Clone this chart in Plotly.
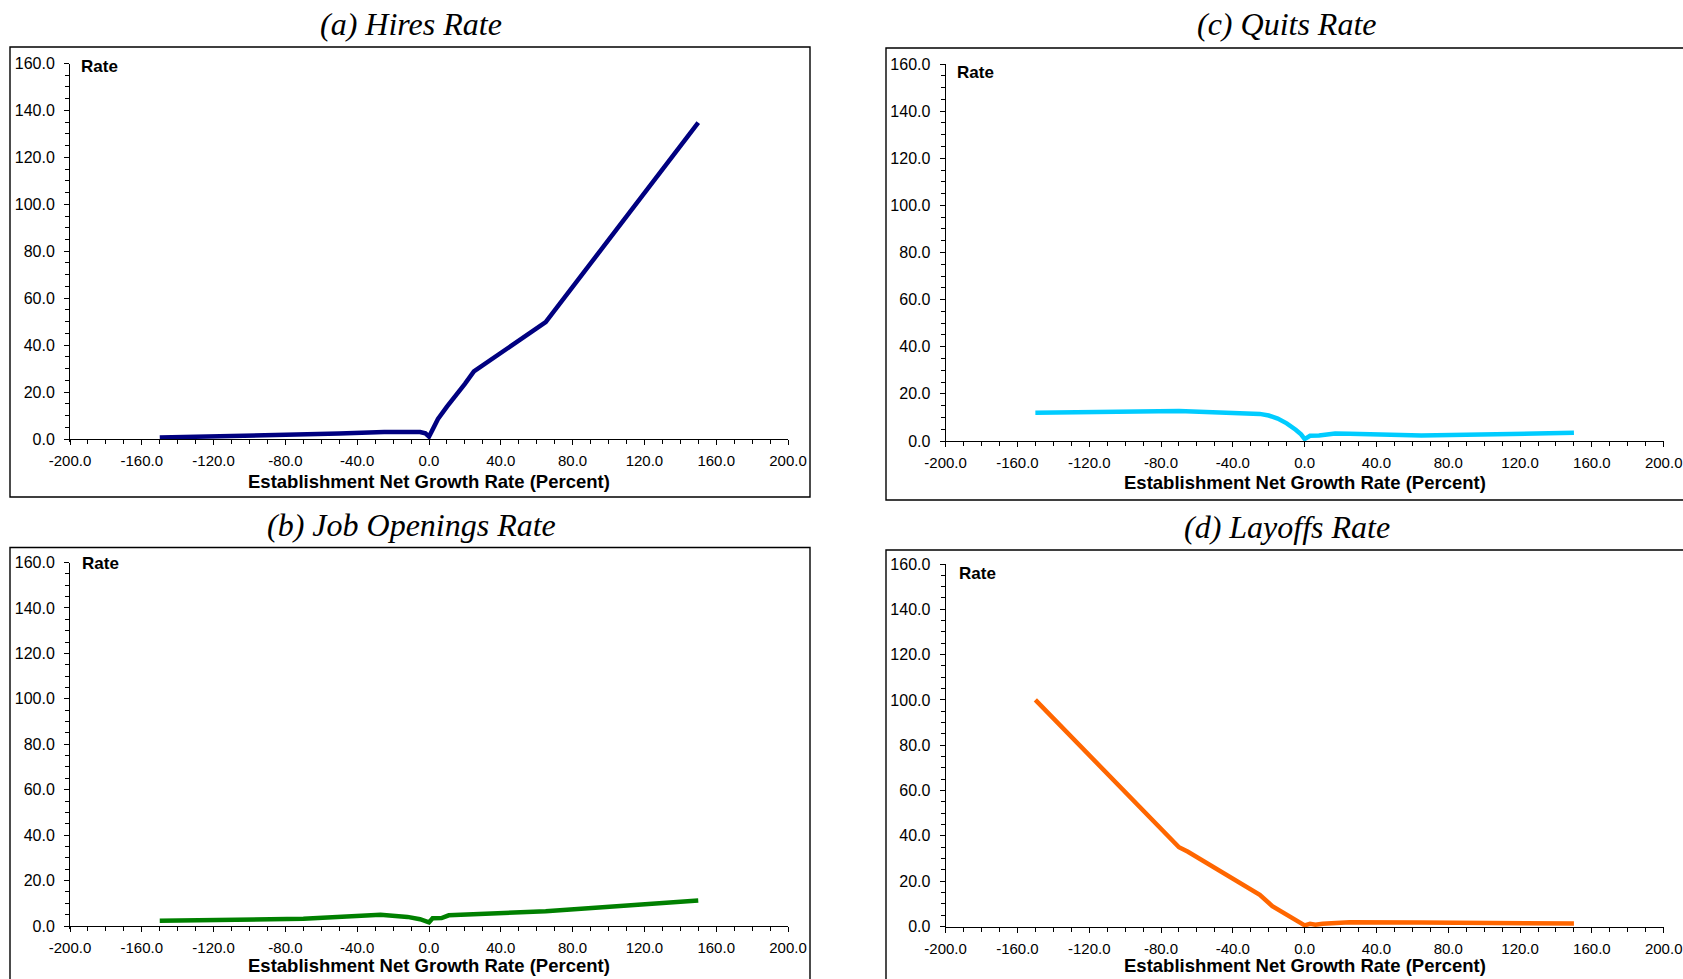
import plotly.graph_objects as go

# ---------------- data ----------------
hires_x = [-150, -100, -70, -50, -25, -5, -2, 0, 2, 5, 10, 15, 20, 25, 65, 150]
hires_y = [0.6, 1.3, 1.8, 2.3, 3.0, 3.0, 2.4, 1.0, 4.0, 8.5, 13.8, 18.5, 23.5, 28.8, 49.8, 134.8]

jobs_x = [-150, -70, -27, -20, -12, -5, -1, 0, 2, 7, 11, 18, 25, 65, 150]
jobs_y = [2.3, 3.2, 5.0, 4.7, 4.0, 3.0, 2.0, 1.6, 3.4, 3.5, 4.7, 4.9, 5.2, 6.5, 11.2]

quits_x = [-150, -70, -25, -20, -15, -10, -5, -2, 0, 3, 8, 12, 17, 25, 65, 150]
quits_y = [12.0, 12.7, 11.5, 10.8, 9.5, 7.5, 4.8, 2.8, 0.8, 2.2, 2.3, 2.7, 3.2, 3.1, 2.3, 3.5]

layoffs_x = [-150, -70, -65, -25, -18, -12, -5, 0, 3, 6, 10, 25, 65, 150]
layoffs_y = [100.0, 35.0, 33.0, 14.0, 9.0, 6.0, 2.5, 0.5, 1.2, 0.8, 1.2, 1.9, 1.8, 1.3]

titles = ["(a) Hires Rate", "(b) Job Openings Rate", "(c) Quits Rate", "(d) Layoffs Rate"]
colors = ["#000080", "#008000", "#00CCFF", "#FF6600"]
x_title = "Establishment Net Growth Rate (Percent)"
y_label = "Rate"
x_ticks = [-200, -160, -120, -80, -40, 0, 40, 80, 120, 160, 200]
y_ticks = [0, 20, 40, 60, 80, 100, 120, 140, 160]

series = [(hires_x, hires_y), (jobs_x, jobs_y), (quits_x, quits_y), (layoffs_x, layoffs_y)]

# ---------------- layout (pixels) ----------------
W, H = 1683, 979
# plot area: x-left, x-right, y(160), y(0)
areas = [
    (70, 788, 63.5, 439),        # (a)
    (70, 788, 562.5, 926),       # (b)
    (945.6, 1663.7, 64, 441),    # (c)
    (945.6, 1663.7, 564, 926.5), # (d)
]
frames = [
    (10, 810, 47, 497),
    (10, 810, 547.5, 1000),
    (886, 1720, 48, 500),
    (886, 1720, 550, 1000),
]
title_pos = [(411, 24), (411, 525), (1287, 24), (1287, 527)]
rate_pos = [(79, 67), (80, 563), (955, 72), (957, 573)]
xtitle_y = [481, 965, 483, 965]

YMIN = -1.2
SANS = "Liberation Sans, Arial, sans-serif"
SERIF = "Liberation Serif, Times New Roman, serif"

fig = go.Figure()
annotations = []
shapes = []

for i, ((xs, ys), col) in enumerate(zip(series, colors)):
    n = i + 1
    xl, xr, y160, y0 = areas[i]
    ybot = y0 + (0 - YMIN) * (y0 - y160) / 160.0
    xa = "xaxis" if n == 1 else f"xaxis{n}"
    ya = "yaxis" if n == 1 else f"yaxis{n}"
    fig.add_trace(go.Scatter(
        x=xs, y=ys, mode="lines",
        line=dict(color=col, width=4.5),
        xaxis=f"x{n}" if n > 1 else "x",
        yaxis=f"y{n}" if n > 1 else "y",
        showlegend=False, hoverinfo="skip",
    ))
    fig.layout[xa] = dict(
        domain=[xl / W, xr / W], range=[-200, 200],
        anchor="free", position=1 - y0 / H, automargin=False,
        tickmode="array", tickvals=x_ticks,
        ticktext=[f"{v:.1f}" for v in x_ticks],
        ticks="outside", ticklen=5, tickwidth=1, tickcolor="black",
        minor=dict(dtick=10, tick0=-200, ticks="outside", ticklen=4,
                   tickcolor="black", tickwidth=1, showgrid=False),
        showline=True, linecolor="black", linewidth=1,
        showgrid=False, zeroline=False,
        tickfont=dict(family=SANS, size=15, color="black"),
        ticklabelstandoff=3,
    )
    fig.layout[ya] = dict(
        domain=[1 - ybot / H, 1 - y160 / H], range=[YMIN, 160],
        anchor=f"x{n}" if n > 1 else "x", automargin=False,
        tickmode="array", tickvals=y_ticks,
        ticktext=[f"{v:.1f}" for v in y_ticks],
        ticks="outside", ticklen=5, tickwidth=1, tickcolor="black",
        minor=dict(dtick=5, tick0=0, ticks="outside", ticklen=4,
                   tickcolor="black", tickwidth=1, showgrid=False),
        showline=True, linecolor="black", linewidth=1,
        showgrid=False, zeroline=False,
        tickfont=dict(family=SANS, size=16, color="black"),
        ticklabelstandoff=6,
    )
    fx0, fx1, fy0, fy1 = frames[i]
    shapes.append(dict(type="rect", xref="paper", yref="paper",
                       x0=fx0 / W, x1=fx1 / W, y0=1 - fy1 / H, y1=1 - fy0 / H,
                       line=dict(color="black", width=1.4), fillcolor="rgba(0,0,0,0)"))
    tx, ty = title_pos[i]
    annotations.append(dict(text=f"<i>{titles[i]}</i>", xref="paper", yref="paper",
                            x=tx / W, y=1 - ty / H, xanchor="center", yanchor="middle",
                            showarrow=False, font=dict(family=SERIF, size=32, color="black")))
    rx, ry = rate_pos[i]
    annotations.append(dict(text=f"<b>{y_label}</b>", xref="paper", yref="paper",
                            x=rx / W, y=1 - ry / H, xanchor="left", yanchor="middle",
                            showarrow=False, font=dict(family=SANS, size=17, color="black")))
    annotations.append(dict(text=f"<b>{x_title}</b>", xref="paper", yref="paper",
                            x=(xl + xr) / 2 / W, y=1 - xtitle_y[i] / H,
                            xanchor="center", yanchor="middle",
                            showarrow=False, font=dict(family=SANS, size=18.5, color="black")))

fig.update_layout(
    width=W, height=H,
    margin=dict(l=0, r=0, t=0, b=0, autoexpand=False),
    paper_bgcolor="white", plot_bgcolor="white",
    shapes=shapes, annotations=annotations,
)

page_fix = (
    "document.documentElement.style.margin='0';"
    "document.documentElement.style.overflow='hidden';"
    "document.body.style.margin='0';"
    "document.body.style.overflow='hidden';"
    "var gd=document.getElementById('{plot_id}');"
    "gd.style.position='absolute';gd.style.left='0px';gd.style.top='0px';"
)

fig.write_html("out.html", post_script=page_fix, config={"displayModeBar": False})
